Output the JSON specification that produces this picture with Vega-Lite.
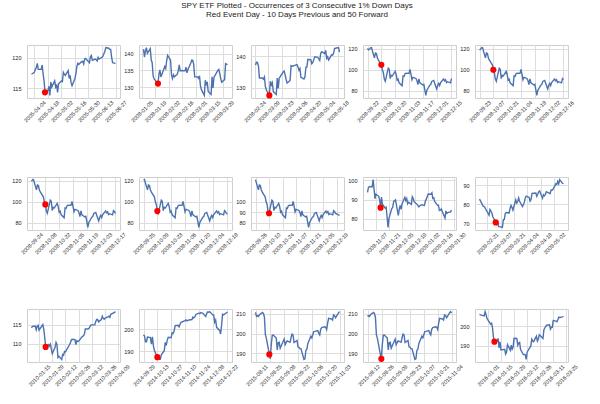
{
"$schema": "https://vega.github.io/schema/vega-lite/v6.json",
"padding": {"left": 11, "top": 2, "right": 5, "bottom": 5},
"background": "white",
"title": {"text": ["SPY ETF Plotted - Occurrences of 3 Consecutive 1% Down Days", "Red Event Day - 10 Days Previous and 50 Forward"], "fontSize": 8, "fontWeight": "normal", "color": "#222222", "font": "Liberation Sans", "anchor": "start", "align": "center", "dx": 270, "frame": "group", "offset": 25, "lineHeight": 9},
"datasets": {
"A": [{"d":"2005-04-01","v":117.3},{"d":"2005-04-04","v":117.6},{"d":"2005-04-05","v":118.1},{"d":"2005-04-06","v":118.4},{"d":"2005-04-07","v":119.1},{"d":"2005-04-08","v":118.1},{"d":"2005-04-11","v":118.1},{"d":"2005-04-12","v":118.8},{"d":"2005-04-13","v":117.4},{"d":"2005-04-14","v":116.2},{"d":"2005-04-15","v":114.3},{"d":"2005-04-18","v":114.6},{"d":"2005-04-19","v":115.3},{"d":"2005-04-20","v":113.8},{"d":"2005-04-21","v":116.0},{"d":"2005-04-22","v":115.2},{"d":"2005-04-25","v":116.2},{"d":"2005-04-26","v":115.2},{"d":"2005-04-27","v":115.6},{"d":"2005-04-28","v":114.3},{"d":"2005-04-29","v":115.7},{"d":"2005-05-02","v":116.2},{"d":"2005-05-03","v":116.1},{"d":"2005-05-04","v":117.6},{"d":"2005-05-05","v":117.3},{"d":"2005-05-06","v":117.1},{"d":"2005-05-09","v":117.9},{"d":"2005-05-10","v":116.6},{"d":"2005-05-11","v":117.1},{"d":"2005-05-12","v":115.9},{"d":"2005-05-13","v":115.4},{"d":"2005-05-16","v":116.6},{"d":"2005-05-17","v":117.4},{"d":"2005-05-18","v":118.6},{"d":"2005-05-19","v":119.1},{"d":"2005-05-20","v":118.9},{"d":"2005-05-23","v":119.4},{"d":"2005-05-24","v":119.4},{"d":"2005-05-25","v":119.0},{"d":"2005-05-26","v":119.8},{"d":"2005-05-27","v":119.9},{"d":"2005-05-31","v":119.2},{"d":"2005-06-01","v":120.2},{"d":"2005-06-02","v":120.4},{"d":"2005-06-03","v":119.6},{"d":"2005-06-06","v":119.8},{"d":"2005-06-07","v":119.7},{"d":"2005-06-08","v":119.5},{"d":"2005-06-09","v":120.1},{"d":"2005-06-10","v":119.8},{"d":"2005-06-13","v":120.1},{"d":"2005-06-14","v":120.3},{"d":"2005-06-15","v":120.7},{"d":"2005-06-16","v":121.1},{"d":"2005-06-17","v":121.7},{"d":"2005-06-20","v":121.6},{"d":"2005-06-21","v":121.4},{"d":"2005-06-22","v":121.4},{"d":"2005-06-23","v":120.1},{"d":"2005-06-24","v":119.2},{"d":"2005-06-27","v":119.1}],
"B": [{"d":"2008-01-07","v":141.3},{"d":"2008-01-08","v":139.0},{"d":"2008-01-09","v":140.9},{"d":"2008-01-10","v":141.8},{"d":"2008-01-11","v":140.1},{"d":"2008-01-14","v":141.5},{"d":"2008-01-15","v":138.1},{"d":"2008-01-16","v":137.3},{"d":"2008-01-17","v":133.3},{"d":"2008-01-18","v":132.5},{"d":"2008-01-22","v":131.1},{"d":"2008-01-23","v":133.9},{"d":"2008-01-24","v":135.2},{"d":"2008-01-25","v":133.1},{"d":"2008-01-28","v":135.4},{"d":"2008-01-29","v":136.2},{"d":"2008-01-30","v":135.6},{"d":"2008-01-31","v":137.9},{"d":"2008-02-01","v":139.5},{"d":"2008-02-04","v":138.1},{"d":"2008-02-05","v":133.7},{"d":"2008-02-06","v":132.6},{"d":"2008-02-07","v":133.7},{"d":"2008-02-08","v":133.1},{"d":"2008-02-11","v":133.9},{"d":"2008-02-12","v":134.9},{"d":"2008-02-13","v":136.7},{"d":"2008-02-14","v":134.9},{"d":"2008-02-15","v":135.0},{"d":"2008-02-19","v":134.9},{"d":"2008-02-20","v":136.0},{"d":"2008-02-21","v":134.3},{"d":"2008-02-22","v":135.3},{"d":"2008-02-25","v":137.2},{"d":"2008-02-26","v":138.1},{"d":"2008-02-27","v":138.0},{"d":"2008-02-28","v":136.8},{"d":"2008-02-29","v":133.1},{"d":"2008-03-03","v":133.1},{"d":"2008-03-04","v":132.7},{"d":"2008-03-05","v":133.4},{"d":"2008-03-06","v":130.4},{"d":"2008-03-07","v":129.3},{"d":"2008-03-10","v":127.6},{"d":"2008-03-11","v":132.1},{"d":"2008-03-12","v":130.9},{"d":"2008-03-13","v":131.6},{"d":"2008-03-14","v":128.8},{"d":"2008-03-17","v":127.9},{"d":"2008-03-18","v":133.1},{"d":"2008-03-19","v":129.8},{"d":"2008-03-20","v":133.0},{"d":"2008-03-24","v":135.0},{"d":"2008-03-25","v":135.3},{"d":"2008-03-26","v":134.1},{"d":"2008-03-27","v":132.6},{"d":"2008-03-28","v":131.5},{"d":"2008-03-31","v":132.3},{"d":"2008-04-01","v":137.0},{"d":"2008-04-02","v":136.8},{"d":"2008-04-03","v":136.9},{"d":"2008-04-04","v":137.0},{"d":"2008-04-07","v":137.3},{"d":"2008-04-08","v":136.6},{"d":"2008-04-09","v":135.5},{"d":"2008-04-10","v":136.1},{"d":"2008-04-11","v":133.3},{"d":"2008-04-14","v":132.8},{"d":"2008-04-15","v":133.4},{"d":"2008-04-16","v":136.5},{"d":"2008-04-17","v":136.6},{"d":"2008-04-18","v":139.0},{"d":"2008-04-21","v":138.8},{"d":"2008-04-22","v":137.6},{"d":"2008-04-23","v":138.0},{"d":"2008-04-24","v":138.9},{"d":"2008-04-25","v":139.8},{"d":"2008-04-28","v":139.6},{"d":"2008-04-29","v":139.1},{"d":"2008-04-30","v":138.6},{"d":"2008-05-01","v":140.9},{"d":"2008-05-02","v":141.4},{"d":"2008-05-05","v":140.8},{"d":"2008-05-06","v":141.8},{"d":"2008-05-07","v":139.3},{"d":"2008-05-08","v":139.8},{"d":"2008-05-09","v":138.8},{"d":"2008-05-12","v":140.4},{"d":"2008-05-13","v":140.3},{"d":"2008-05-14","v":140.9},{"d":"2008-05-15","v":142.4},{"d":"2008-05-16","v":142.5},{"d":"2008-05-19","v":142.7},{"d":"2008-05-20","v":141.3}],
"C": [{"d":"2008-09-22","v":120.5},{"d":"2008-09-23","v":119.0},{"d":"2008-09-24","v":119.6},{"d":"2008-09-25","v":121.0},{"d":"2008-09-26","v":121.2},{"d":"2008-09-29","v":111.4},{"d":"2008-09-30","v":116.0},{"d":"2008-10-01","v":115.6},{"d":"2008-10-02","v":111.3},{"d":"2008-10-03","v":109.2},{"d":"2008-10-06","v":104.8},{"d":"2008-10-07","v":100.0},{"d":"2008-10-08","v":97.5},{"d":"2008-10-09","v":91.1},{"d":"2008-10-10","v":89.0},{"d":"2008-10-13","v":101.5},{"d":"2008-10-14","v":100.5},{"d":"2008-10-15","v":91.5},{"d":"2008-10-16","v":94.7},{"d":"2008-10-17","v":94.0},{"d":"2008-10-20","v":98.5},{"d":"2008-10-21","v":95.5},{"d":"2008-10-22","v":90.0},{"d":"2008-10-23","v":91.0},{"d":"2008-10-24","v":87.5},{"d":"2008-10-27","v":84.8},{"d":"2008-10-28","v":94.0},{"d":"2008-10-29","v":93.7},{"d":"2008-10-30","v":96.3},{"d":"2008-10-31","v":96.8},{"d":"2008-11-03","v":96.6},{"d":"2008-11-04","v":100.4},{"d":"2008-11-05","v":95.7},{"d":"2008-11-06","v":90.4},{"d":"2008-11-07","v":92.8},{"d":"2008-11-10","v":91.7},{"d":"2008-11-11","v":89.8},{"d":"2008-11-12","v":85.8},{"d":"2008-11-13","v":91.3},{"d":"2008-11-14","v":87.6},{"d":"2008-11-17","v":85.5},{"d":"2008-11-18","v":86.0},{"d":"2008-11-19","v":80.9},{"d":"2008-11-20","v":75.5},{"d":"2008-11-21","v":80.2},{"d":"2008-11-24","v":85.3},{"d":"2008-11-25","v":85.9},{"d":"2008-11-26","v":88.9},{"d":"2008-11-28","v":89.8},{"d":"2008-12-01","v":81.7},{"d":"2008-12-02","v":84.9},{"d":"2008-12-03","v":87.0},{"d":"2008-12-04","v":84.9},{"d":"2008-12-05","v":87.7},{"d":"2008-12-08","v":91.2},{"d":"2008-12-09","v":89.5},{"d":"2008-12-10","v":90.5},{"d":"2008-12-11","v":87.8},{"d":"2008-12-12","v":88.6},{"d":"2008-12-15","v":87.5},{"d":"2008-12-16","v":91.5},{"d":"2008-12-17","v":90.6},{"d":"2008-12-18","v":88.8},{"d":"2008-12-19","v":88.5},{"d":"2008-12-22","v":87.0},{"d":"2008-12-23","v":86.2},{"d":"2008-12-24","v":86.8},{"d":"2008-12-26","v":87.3},{"d":"2008-12-29","v":87.0},{"d":"2008-12-30","v":89.2},{"d":"2008-12-31","v":90.2},{"d":"2009-01-02","v":92.9},{"d":"2009-01-05","v":92.8},{"d":"2009-01-06","v":93.5},{"d":"2009-01-07","v":90.6},{"d":"2009-01-08","v":90.9},{"d":"2009-01-09","v":89.0},{"d":"2009-01-12","v":87.0},{"d":"2009-01-13","v":87.1},{"d":"2009-01-14","v":84.3},{"d":"2009-01-15","v":84.4},{"d":"2009-01-16","v":85.1},{"d":"2009-01-20","v":80.4},{"d":"2009-01-21","v":84.1},{"d":"2009-01-22","v":82.8},{"d":"2009-01-23","v":83.2},{"d":"2009-01-26","v":83.6},{"d":"2009-01-27","v":84.5}],
"D": [{"d":"2009-02-13","v":82.7},{"d":"2009-02-17","v":78.9},{"d":"2009-02-18","v":78.8},{"d":"2009-02-19","v":77.9},{"d":"2009-02-20","v":77.0},{"d":"2009-02-23","v":74.3},{"d":"2009-02-24","v":77.3},{"d":"2009-02-25","v":76.5},{"d":"2009-02-26","v":75.3},{"d":"2009-02-27","v":73.5},{"d":"2009-03-02","v":70.5},{"d":"2009-03-03","v":69.6},{"d":"2009-03-04","v":71.3},{"d":"2009-03-05","v":68.3},{"d":"2009-03-06","v":68.3},{"d":"2009-03-09","v":67.9},{"d":"2009-03-10","v":72.0},{"d":"2009-03-11","v":72.1},{"d":"2009-03-12","v":75.1},{"d":"2009-03-13","v":75.7},{"d":"2009-03-16","v":75.4},{"d":"2009-03-17","v":77.8},{"d":"2009-03-18","v":79.4},{"d":"2009-03-19","v":78.4},{"d":"2009-03-20","v":76.9},{"d":"2009-03-23","v":82.3},{"d":"2009-03-24","v":80.6},{"d":"2009-03-25","v":81.4},{"d":"2009-03-26","v":83.3},{"d":"2009-03-27","v":81.6},{"d":"2009-03-30","v":78.8},{"d":"2009-03-31","v":79.8},{"d":"2009-04-01","v":81.1},{"d":"2009-04-02","v":83.4},{"d":"2009-04-03","v":84.3},{"d":"2009-04-06","v":83.6},{"d":"2009-04-07","v":81.6},{"d":"2009-04-08","v":82.5},{"d":"2009-04-09","v":85.7},{"d":"2009-04-13","v":85.9},{"d":"2009-04-14","v":84.2},{"d":"2009-04-15","v":85.2},{"d":"2009-04-16","v":86.5},{"d":"2009-04-17","v":87.0},{"d":"2009-04-20","v":83.2},{"d":"2009-04-21","v":85.0},{"d":"2009-04-22","v":84.4},{"d":"2009-04-23","v":85.2},{"d":"2009-04-24","v":86.6},{"d":"2009-04-27","v":85.8},{"d":"2009-04-28","v":85.5},{"d":"2009-04-29","v":87.4},{"d":"2009-04-30","v":87.3},{"d":"2009-05-01","v":87.8},{"d":"2009-05-04","v":90.7},{"d":"2009-05-05","v":90.4},{"d":"2009-05-06","v":92.0},{"d":"2009-05-07","v":90.7},{"d":"2009-05-08","v":92.9},{"d":"2009-05-11","v":90.9},{"d":"2009-05-12","v":90.8}],
"E": [{"d":"2010-01-07","v":114.2},{"d":"2010-01-08","v":114.6},{"d":"2010-01-11","v":114.7},{"d":"2010-01-12","v":113.7},{"d":"2010-01-13","v":114.6},{"d":"2010-01-14","v":114.9},{"d":"2010-01-15","v":113.6},{"d":"2010-01-19","v":115.1},{"d":"2010-01-20","v":113.9},{"d":"2010-01-21","v":111.7},{"d":"2010-01-22","v":109.2},{"d":"2010-01-25","v":109.8},{"d":"2010-01-26","v":109.4},{"d":"2010-01-27","v":109.9},{"d":"2010-01-28","v":108.6},{"d":"2010-01-29","v":107.4},{"d":"2010-02-01","v":109.1},{"d":"2010-02-02","v":110.4},{"d":"2010-02-03","v":109.8},{"d":"2010-02-04","v":106.4},{"d":"2010-02-05","v":106.7},{"d":"2010-02-08","v":105.9},{"d":"2010-02-09","v":107.2},{"d":"2010-02-10","v":107.0},{"d":"2010-02-11","v":108.0},{"d":"2010-02-12","v":107.9},{"d":"2010-02-16","v":109.7},{"d":"2010-02-17","v":110.1},{"d":"2010-02-18","v":110.9},{"d":"2010-02-19","v":111.2},{"d":"2010-02-22","v":111.1},{"d":"2010-02-23","v":109.8},{"d":"2010-02-24","v":110.8},{"d":"2010-02-25","v":110.6},{"d":"2010-02-26","v":110.7},{"d":"2010-03-01","v":111.7},{"d":"2010-03-02","v":112.0},{"d":"2010-03-03","v":112.1},{"d":"2010-03-04","v":112.5},{"d":"2010-03-05","v":113.9},{"d":"2010-03-08","v":113.9},{"d":"2010-03-09","v":114.1},{"d":"2010-03-10","v":114.6},{"d":"2010-03-11","v":115.0},{"d":"2010-03-12","v":115.0},{"d":"2010-03-15","v":115.0},{"d":"2010-03-16","v":115.8},{"d":"2010-03-17","v":116.4},{"d":"2010-03-18","v":116.4},{"d":"2010-03-19","v":115.8},{"d":"2010-03-22","v":116.4},{"d":"2010-03-23","v":117.3},{"d":"2010-03-24","v":116.7},{"d":"2010-03-25","v":116.5},{"d":"2010-03-26","v":116.8},{"d":"2010-03-29","v":117.1},{"d":"2010-03-30","v":117.3},{"d":"2010-03-31","v":117.0},{"d":"2010-04-01","v":117.8},{"d":"2010-04-05","v":118.3},{"d":"2010-04-06","v":118.5}],
"F": [{"d":"2014-09-29","v":197.5},{"d":"2014-09-30","v":197.0},{"d":"2014-10-01","v":194.4},{"d":"2014-10-02","v":194.4},{"d":"2014-10-03","v":196.5},{"d":"2014-10-06","v":196.3},{"d":"2014-10-07","v":193.3},{"d":"2014-10-08","v":196.6},{"d":"2014-10-09","v":192.6},{"d":"2014-10-10","v":190.5},{"d":"2014-10-13","v":187.4},{"d":"2014-10-14","v":187.7},{"d":"2014-10-15","v":186.4},{"d":"2014-10-16","v":186.4},{"d":"2014-10-17","v":188.5},{"d":"2014-10-20","v":190.3},{"d":"2014-10-21","v":194.1},{"d":"2014-10-22","v":192.7},{"d":"2014-10-23","v":195.0},{"d":"2014-10-24","v":196.4},{"d":"2014-10-27","v":196.2},{"d":"2014-10-28","v":198.4},{"d":"2014-10-29","v":198.1},{"d":"2014-10-30","v":199.2},{"d":"2014-10-31","v":201.7},{"d":"2014-11-03","v":201.8},{"d":"2014-11-04","v":201.1},{"d":"2014-11-05","v":202.3},{"d":"2014-11-06","v":203.2},{"d":"2014-11-07","v":203.3},{"d":"2014-11-10","v":203.9},{"d":"2014-11-11","v":204.2},{"d":"2014-11-12","v":203.8},{"d":"2014-11-13","v":204.0},{"d":"2014-11-14","v":204.2},{"d":"2014-11-17","v":204.4},{"d":"2014-11-18","v":205.5},{"d":"2014-11-19","v":205.2},{"d":"2014-11-20","v":205.6},{"d":"2014-11-21","v":206.7},{"d":"2014-11-24","v":207.3},{"d":"2014-11-25","v":207.1},{"d":"2014-11-26","v":207.6},{"d":"2014-11-28","v":207.2},{"d":"2014-12-01","v":205.8},{"d":"2014-12-02","v":207.1},{"d":"2014-12-03","v":207.9},{"d":"2014-12-04","v":207.7},{"d":"2014-12-05","v":208.0},{"d":"2014-12-08","v":206.5},{"d":"2014-12-09","v":206.5},{"d":"2014-12-10","v":203.2},{"d":"2014-12-11","v":204.2},{"d":"2014-12-12","v":200.9},{"d":"2014-12-15","v":199.5},{"d":"2014-12-16","v":197.9},{"d":"2014-12-17","v":201.8},{"d":"2014-12-18","v":206.8},{"d":"2014-12-19","v":206.5},{"d":"2014-12-22","v":207.5},{"d":"2014-12-23","v":207.8}],
"G": [{"d":"2015-08-10","v":210.6},{"d":"2015-08-11","v":208.6},{"d":"2015-08-12","v":209.0},{"d":"2015-08-13","v":208.6},{"d":"2015-08-14","v":209.4},{"d":"2015-08-17","v":210.6},{"d":"2015-08-18","v":210.1},{"d":"2015-08-19","v":208.3},{"d":"2015-08-20","v":199.4},{"d":"2015-08-21","v":197.6},{"d":"2015-08-24","v":189.5},{"d":"2015-08-25","v":187.3},{"d":"2015-08-26","v":194.7},{"d":"2015-08-27","v":199.2},{"d":"2015-08-28","v":199.3},{"d":"2015-08-31","v":197.7},{"d":"2015-09-01","v":191.8},{"d":"2015-09-02","v":195.4},{"d":"2015-09-03","v":195.6},{"d":"2015-09-04","v":192.6},{"d":"2015-09-08","v":197.2},{"d":"2015-09-09","v":194.4},{"d":"2015-09-10","v":195.4},{"d":"2015-09-11","v":196.3},{"d":"2015-09-14","v":195.6},{"d":"2015-09-15","v":198.0},{"d":"2015-09-16","v":199.7},{"d":"2015-09-17","v":199.2},{"d":"2015-09-18","v":195.5},{"d":"2015-09-21","v":196.5},{"d":"2015-09-22","v":193.3},{"d":"2015-09-23","v":193.1},{"d":"2015-09-24","v":192.4},{"d":"2015-09-25","v":192.4},{"d":"2015-09-28","v":187.0},{"d":"2015-09-29","v":187.3},{"d":"2015-09-30","v":191.6},{"d":"2015-10-01","v":192.1},{"d":"2015-10-02","v":195.0},{"d":"2015-10-05","v":198.6},{"d":"2015-10-06","v":197.8},{"d":"2015-10-07","v":199.4},{"d":"2015-10-08","v":201.0},{"d":"2015-10-09","v":201.1},{"d":"2015-10-12","v":201.5},{"d":"2015-10-13","v":200.2},{"d":"2015-10-14","v":199.3},{"d":"2015-10-15","v":202.1},{"d":"2015-10-16","v":203.0},{"d":"2015-10-19","v":203.4},{"d":"2015-10-20","v":203.1},{"d":"2015-10-21","v":202.0},{"d":"2015-10-22","v":205.2},{"d":"2015-10-23","v":207.6},{"d":"2015-10-26","v":207.3},{"d":"2015-10-27","v":206.8},{"d":"2015-10-28","v":209.3},{"d":"2015-10-29","v":208.9},{"d":"2015-10-30","v":207.9},{"d":"2015-11-02","v":210.4},{"d":"2015-11-03","v":211.0},{"d":"2015-11-04","v":210.3}],
"H": [{"d":"2015-12-23","v":206.0},{"d":"2015-12-24","v":205.7},{"d":"2015-12-28","v":205.2},{"d":"2015-12-29","v":207.4},{"d":"2015-12-30","v":205.9},{"d":"2015-12-31","v":203.9},{"d":"2016-01-04","v":201.0},{"d":"2016-01-05","v":201.4},{"d":"2016-01-06","v":198.8},{"d":"2016-01-07","v":194.0},{"d":"2016-01-08","v":192.0},{"d":"2016-01-11","v":192.1},{"d":"2016-01-12","v":193.7},{"d":"2016-01-13","v":188.8},{"d":"2016-01-14","v":191.9},{"d":"2016-01-15","v":187.8},{"d":"2016-01-19","v":188.1},{"d":"2016-01-20","v":185.7},{"d":"2016-01-21","v":186.7},{"d":"2016-01-22","v":190.5},{"d":"2016-01-25","v":187.6},{"d":"2016-01-26","v":190.2},{"d":"2016-01-27","v":188.1},{"d":"2016-01-28","v":189.1},{"d":"2016-01-29","v":193.7},{"d":"2016-02-01","v":193.6},{"d":"2016-02-02","v":190.2},{"d":"2016-02-03","v":191.3},{"d":"2016-02-04","v":191.6},{"d":"2016-02-05","v":187.9},{"d":"2016-02-08","v":185.4},{"d":"2016-02-09","v":185.4},{"d":"2016-02-10","v":185.3},{"d":"2016-02-11","v":182.9},{"d":"2016-02-12","v":186.6},{"d":"2016-02-16","v":189.8},{"d":"2016-02-17","v":193.2},{"d":"2016-02-18","v":192.3},{"d":"2016-02-19","v":192.0},{"d":"2016-02-22","v":194.8},{"d":"2016-02-23","v":192.3},{"d":"2016-02-24","v":193.2},{"d":"2016-02-25","v":195.5},{"d":"2016-02-26","v":195.1},{"d":"2016-02-29","v":193.6},{"d":"2016-03-01","v":198.1},{"d":"2016-03-02","v":199.0},{"d":"2016-03-03","v":199.8},{"d":"2016-03-04","v":200.4},{"d":"2016-03-07","v":200.6},{"d":"2016-03-08","v":198.4},{"d":"2016-03-09","v":199.4},{"d":"2016-03-10","v":199.4},{"d":"2016-03-11","v":202.8},{"d":"2016-03-14","v":202.5},{"d":"2016-03-15","v":202.2},{"d":"2016-03-16","v":203.3},{"d":"2016-03-17","v":204.6},{"d":"2016-03-18","v":204.4},{"d":"2016-03-21","v":204.7},{"d":"2016-03-22","v":204.9}]
},
"bounds": "flush",
"spacing": {"row": 79, "column": 19},
"columns": 5,
"concat": [
{"width":93,"height":53,"data":{"name":"A"},"layer":[
{"mark":"line","encoding":{"x":{"field":"d","type":"temporal","title":null,"scale":{"type":"utc","nice":false,"padding":4.5},"axis":{"values":[{"year":2005,"month":4,"date":4,"utc":true},{"year":2005,"month":4,"date":18,"utc":true},{"year":2005,"month":5,"date":2,"utc":true},{"year":2005,"month":5,"date":16,"utc":true},{"year":2005,"month":5,"date":30,"utc":true},{"year":2005,"month":6,"date":13,"utc":true},{"year":2005,"month":6,"date":27,"utc":true}],"tickCount":30,"format":"%Y-%m-%d","labelAngle":-45,"labelAlign":"center","labelBaseline":"middle","labelPadding":13,"labelOverlap":false,"labelFlush":false,"labelBound":false}},"y":{"field":"v","type":"quantitative","title":null,"scale":{"zero":false,"nice":false,"padding":2.6},"axis":{"values":[115,120],"tickCount":30,"format":"d"}}}},
{"transform":[{"filter":"time(datum.d)==time('2005-04-15')"}],"mark":"point","encoding":{"x":{"field":"d","type":"temporal"},"y":{"field":"v","type":"quantitative"}}}]},
{"width":93,"height":53,"data":{"name":"B"},"transform":[{"filter":"time(datum.d)>=time('2008-01-07')&&time(datum.d)<=time('2008-04-03')"}],"layer":[
{"mark":"line","encoding":{"x":{"field":"d","type":"temporal","title":null,"scale":{"type":"utc","nice":false,"padding":4.5},"axis":{"values":[{"year":2008,"month":1,"date":5,"utc":true},{"year":2008,"month":1,"date":19,"utc":true},{"year":2008,"month":2,"date":2,"utc":true},{"year":2008,"month":2,"date":16,"utc":true},{"year":2008,"month":3,"date":1,"utc":true},{"year":2008,"month":3,"date":15,"utc":true},{"year":2008,"month":3,"date":29,"utc":true}],"tickCount":30,"format":"%Y-%m-%d","labelAngle":-45,"labelAlign":"center","labelBaseline":"middle","labelPadding":13,"labelOverlap":false,"labelFlush":false,"labelBound":false}},"y":{"field":"v","type":"quantitative","title":null,"scale":{"zero":false,"nice":false,"padding":2.6},"axis":{"values":[130,135,140],"tickCount":30,"format":"d"}}}},
{"transform":[{"filter":"time(datum.d)==time('2008-01-22')"}],"mark":"point","encoding":{"x":{"field":"d","type":"temporal"},"y":{"field":"v","type":"quantitative"}}}]},
{"width":93,"height":53,"data":{"name":"B"},"transform":[{"filter":"time(datum.d)>=time('2008-02-25')&&time(datum.d)<=time('2008-05-20')"}],"layer":[
{"mark":"line","encoding":{"x":{"field":"d","type":"temporal","title":null,"scale":{"type":"utc","nice":false,"padding":4.5},"axis":{"values":[{"year":2008,"month":2,"date":24,"utc":true},{"year":2008,"month":3,"date":9,"utc":true},{"year":2008,"month":3,"date":23,"utc":true},{"year":2008,"month":4,"date":6,"utc":true},{"year":2008,"month":4,"date":20,"utc":true},{"year":2008,"month":5,"date":4,"utc":true},{"year":2008,"month":5,"date":18,"utc":true}],"tickCount":30,"format":"%Y-%m-%d","labelAngle":-45,"labelAlign":"center","labelBaseline":"middle","labelPadding":13,"labelOverlap":false,"labelFlush":false,"labelBound":false}},"y":{"field":"v","type":"quantitative","title":null,"scale":{"zero":false,"nice":false,"padding":2.6},"axis":{"values":[130,140],"tickCount":30,"format":"d"}}}},
{"transform":[{"filter":"time(datum.d)==time('2008-03-10')"}],"mark":"point","encoding":{"x":{"field":"d","type":"temporal"},"y":{"field":"v","type":"quantitative"}}}]},
{"width":93,"height":53,"data":{"name":"C"},"transform":[{"filter":"time(datum.d)>=time('2008-09-22')&&time(datum.d)<=time('2008-12-16')"}],"layer":[
{"mark":"line","encoding":{"x":{"field":"d","type":"temporal","title":null,"scale":{"type":"utc","nice":false,"padding":4.5},"axis":{"values":[{"year":2008,"month":9,"date":22,"utc":true},{"year":2008,"month":10,"date":6,"utc":true},{"year":2008,"month":10,"date":20,"utc":true},{"year":2008,"month":11,"date":3,"utc":true},{"year":2008,"month":11,"date":17,"utc":true},{"year":2008,"month":12,"date":1,"utc":true},{"year":2008,"month":12,"date":15,"utc":true}],"tickCount":30,"format":"%Y-%m-%d","labelAngle":-45,"labelAlign":"center","labelBaseline":"middle","labelPadding":13,"labelOverlap":false,"labelFlush":false,"labelBound":false}},"y":{"field":"v","type":"quantitative","title":null,"scale":{"zero":false,"nice":false,"padding":2.6},"axis":{"values":[80,100,120],"tickCount":30,"format":"d"}}}},
{"transform":[{"filter":"time(datum.d)==time('2008-10-06')"}],"mark":"point","encoding":{"x":{"field":"d","type":"temporal"},"y":{"field":"v","type":"quantitative"}}}]},
{"width":93,"height":53,"data":{"name":"C"},"transform":[{"filter":"time(datum.d)>=time('2008-09-23')&&time(datum.d)<=time('2008-12-17')"}],"layer":[
{"mark":"line","encoding":{"x":{"field":"d","type":"temporal","title":null,"scale":{"type":"utc","nice":false,"padding":4.5},"axis":{"values":[{"year":2008,"month":9,"date":23,"utc":true},{"year":2008,"month":10,"date":7,"utc":true},{"year":2008,"month":10,"date":21,"utc":true},{"year":2008,"month":11,"date":4,"utc":true},{"year":2008,"month":11,"date":18,"utc":true},{"year":2008,"month":12,"date":2,"utc":true},{"year":2008,"month":12,"date":16,"utc":true}],"tickCount":30,"format":"%Y-%m-%d","labelAngle":-45,"labelAlign":"center","labelBaseline":"middle","labelPadding":13,"labelOverlap":false,"labelFlush":false,"labelBound":false}},"y":{"field":"v","type":"quantitative","title":null,"scale":{"zero":false,"nice":false,"padding":2.6},"axis":{"values":[80,100,120],"tickCount":30,"format":"d"}}}},
{"transform":[{"filter":"time(datum.d)==time('2008-10-07')"}],"mark":"point","encoding":{"x":{"field":"d","type":"temporal"},"y":{"field":"v","type":"quantitative"}}}]},
{"width":93,"height":53,"data":{"name":"C"},"transform":[{"filter":"time(datum.d)>=time('2008-09-24')&&time(datum.d)<=time('2008-12-18')"}],"layer":[
{"mark":"line","encoding":{"x":{"field":"d","type":"temporal","title":null,"scale":{"type":"utc","nice":false,"padding":4.5},"axis":{"values":[{"year":2008,"month":9,"date":24,"utc":true},{"year":2008,"month":10,"date":8,"utc":true},{"year":2008,"month":10,"date":22,"utc":true},{"year":2008,"month":11,"date":5,"utc":true},{"year":2008,"month":11,"date":19,"utc":true},{"year":2008,"month":12,"date":3,"utc":true},{"year":2008,"month":12,"date":17,"utc":true}],"tickCount":30,"format":"%Y-%m-%d","labelAngle":-45,"labelAlign":"center","labelBaseline":"middle","labelPadding":13,"labelOverlap":false,"labelFlush":false,"labelBound":false}},"y":{"field":"v","type":"quantitative","title":null,"scale":{"zero":false,"nice":false,"padding":2.6},"axis":{"values":[80,100,120],"tickCount":30,"format":"d"}}}},
{"transform":[{"filter":"time(datum.d)==time('2008-10-08')"}],"mark":"point","encoding":{"x":{"field":"d","type":"temporal"},"y":{"field":"v","type":"quantitative"}}}]},
{"width":93,"height":53,"data":{"name":"C"},"transform":[{"filter":"time(datum.d)>=time('2008-09-25')&&time(datum.d)<=time('2008-12-19')"}],"layer":[
{"mark":"line","encoding":{"x":{"field":"d","type":"temporal","title":null,"scale":{"type":"utc","nice":false,"padding":4.5},"axis":{"values":[{"year":2008,"month":9,"date":25,"utc":true},{"year":2008,"month":10,"date":9,"utc":true},{"year":2008,"month":10,"date":23,"utc":true},{"year":2008,"month":11,"date":6,"utc":true},{"year":2008,"month":11,"date":20,"utc":true},{"year":2008,"month":12,"date":4,"utc":true},{"year":2008,"month":12,"date":18,"utc":true}],"tickCount":30,"format":"%Y-%m-%d","labelAngle":-45,"labelAlign":"center","labelBaseline":"middle","labelPadding":13,"labelOverlap":false,"labelFlush":false,"labelBound":false}},"y":{"field":"v","type":"quantitative","title":null,"scale":{"zero":false,"nice":false,"padding":2.6},"axis":{"values":[80,100,120],"tickCount":30,"format":"d"}}}},
{"transform":[{"filter":"time(datum.d)==time('2008-10-09')"}],"mark":"point","encoding":{"x":{"field":"d","type":"temporal"},"y":{"field":"v","type":"quantitative"}}}]},
{"width":93,"height":53,"data":{"name":"C"},"transform":[{"filter":"time(datum.d)>=time('2008-09-26')&&time(datum.d)<=time('2008-12-22')"}],"layer":[
{"mark":"line","encoding":{"x":{"field":"d","type":"temporal","title":null,"scale":{"type":"utc","nice":false,"padding":4.5},"axis":{"values":[{"year":2008,"month":9,"date":26,"utc":true},{"year":2008,"month":10,"date":10,"utc":true},{"year":2008,"month":10,"date":24,"utc":true},{"year":2008,"month":11,"date":7,"utc":true},{"year":2008,"month":11,"date":21,"utc":true},{"year":2008,"month":12,"date":5,"utc":true},{"year":2008,"month":12,"date":19,"utc":true}],"tickCount":30,"format":"%Y-%m-%d","labelAngle":-45,"labelAlign":"center","labelBaseline":"middle","labelPadding":13,"labelOverlap":false,"labelFlush":false,"labelBound":false}},"y":{"field":"v","type":"quantitative","title":null,"scale":{"zero":false,"nice":false,"padding":2.6},"axis":{"values":[80,90,100],"tickCount":30,"format":"d"}}}},
{"transform":[{"filter":"time(datum.d)==time('2008-10-10')"}],"mark":"point","encoding":{"x":{"field":"d","type":"temporal"},"y":{"field":"v","type":"quantitative"}}}]},
{"width":93,"height":53,"data":{"name":"C"},"transform":[{"filter":"time(datum.d)>=time('2008-10-29')&&time(datum.d)<=time('2009-01-27')"}],"layer":[
{"mark":"line","encoding":{"x":{"field":"d","type":"temporal","title":null,"scale":{"type":"utc","nice":false,"padding":4.5},"axis":{"values":[{"year":2008,"month":11,"date":7,"utc":true},{"year":2008,"month":11,"date":21,"utc":true},{"year":2008,"month":12,"date":5,"utc":true},{"year":2008,"month":12,"date":19,"utc":true},{"year":2009,"month":1,"date":2,"utc":true},{"year":2009,"month":1,"date":16,"utc":true},{"year":2009,"month":1,"date":30,"utc":true}],"tickCount":30,"format":"%Y-%m-%d","labelAngle":-45,"labelAlign":"center","labelBaseline":"middle","labelPadding":13,"labelOverlap":false,"labelFlush":false,"labelBound":false}},"y":{"field":"v","type":"quantitative","title":null,"scale":{"zero":false,"nice":false,"padding":2.6},"axis":{"values":[80,90,100],"tickCount":30,"format":"d"}}}},
{"transform":[{"filter":"time(datum.d)==time('2008-11-12')"}],"mark":"point","encoding":{"x":{"field":"d","type":"temporal"},"y":{"field":"v","type":"quantitative"}}}]},
{"width":93,"height":53,"data":{"name":"D"},"layer":[
{"mark":"line","encoding":{"x":{"field":"d","type":"temporal","title":null,"scale":{"type":"utc","nice":false,"padding":4.5},"axis":{"values":[{"year":2009,"month":2,"date":21,"utc":true},{"year":2009,"month":3,"date":7,"utc":true},{"year":2009,"month":3,"date":21,"utc":true},{"year":2009,"month":4,"date":4,"utc":true},{"year":2009,"month":4,"date":18,"utc":true},{"year":2009,"month":5,"date":2,"utc":true}],"tickCount":30,"format":"%Y-%m-%d","labelAngle":-45,"labelAlign":"center","labelBaseline":"middle","labelPadding":13,"labelOverlap":false,"labelFlush":false,"labelBound":false}},"y":{"field":"v","type":"quantitative","title":null,"scale":{"zero":false,"nice":false,"padding":2.6},"axis":{"values":[70,80,90],"tickCount":30,"format":"d"}}}},
{"transform":[{"filter":"time(datum.d)==time('2009-03-02')"}],"mark":"point","encoding":{"x":{"field":"d","type":"temporal"},"y":{"field":"v","type":"quantitative"}}}]},
{"width":93,"height":53,"data":{"name":"E"},"layer":[
{"mark":"line","encoding":{"x":{"field":"d","type":"temporal","title":null,"scale":{"type":"utc","nice":false,"padding":4.5},"axis":{"values":[{"year":2010,"month":1,"date":15,"utc":true},{"year":2010,"month":1,"date":29,"utc":true},{"year":2010,"month":2,"date":12,"utc":true},{"year":2010,"month":2,"date":26,"utc":true},{"year":2010,"month":3,"date":12,"utc":true},{"year":2010,"month":3,"date":26,"utc":true},{"year":2010,"month":4,"date":9,"utc":true}],"tickCount":30,"format":"%Y-%m-%d","labelAngle":-45,"labelAlign":"center","labelBaseline":"middle","labelPadding":13,"labelOverlap":false,"labelFlush":false,"labelBound":false}},"y":{"field":"v","type":"quantitative","title":null,"scale":{"zero":false,"nice":false,"padding":2.6},"axis":{"values":[110,115],"tickCount":30,"format":"d"}}}},
{"transform":[{"filter":"time(datum.d)==time('2010-01-22')"}],"mark":"point","encoding":{"x":{"field":"d","type":"temporal"},"y":{"field":"v","type":"quantitative"}}}]},
{"width":93,"height":53,"data":{"name":"F"},"layer":[
{"mark":"line","encoding":{"x":{"field":"d","type":"temporal","title":null,"scale":{"type":"utc","nice":false,"padding":4.5},"axis":{"values":[{"year":2014,"month":9,"date":29,"utc":true},{"year":2014,"month":10,"date":13,"utc":true},{"year":2014,"month":10,"date":27,"utc":true},{"year":2014,"month":11,"date":10,"utc":true},{"year":2014,"month":11,"date":24,"utc":true},{"year":2014,"month":12,"date":8,"utc":true},{"year":2014,"month":12,"date":22,"utc":true}],"tickCount":30,"format":"%Y-%m-%d","labelAngle":-45,"labelAlign":"center","labelBaseline":"middle","labelPadding":13,"labelOverlap":false,"labelFlush":false,"labelBound":false}},"y":{"field":"v","type":"quantitative","title":null,"scale":{"zero":false,"nice":false,"padding":2.6},"axis":{"values":[190,200],"tickCount":30,"format":"d"}}}},
{"transform":[{"filter":"time(datum.d)==time('2014-10-13')"}],"mark":"point","encoding":{"x":{"field":"d","type":"temporal"},"y":{"field":"v","type":"quantitative"}}}]},
{"width":93,"height":53,"data":{"name":"G"},"transform":[{"filter":"time(datum.d)>=time('2015-08-10')&&time(datum.d)<=time('2015-11-03')"}],"layer":[
{"mark":"line","encoding":{"x":{"field":"d","type":"temporal","title":null,"scale":{"type":"utc","nice":false,"padding":4.5},"axis":{"values":[{"year":2015,"month":8,"date":11,"utc":true},{"year":2015,"month":8,"date":25,"utc":true},{"year":2015,"month":9,"date":8,"utc":true},{"year":2015,"month":9,"date":22,"utc":true},{"year":2015,"month":10,"date":6,"utc":true},{"year":2015,"month":10,"date":20,"utc":true},{"year":2015,"month":11,"date":3,"utc":true}],"tickCount":30,"format":"%Y-%m-%d","labelAngle":-45,"labelAlign":"center","labelBaseline":"middle","labelPadding":13,"labelOverlap":false,"labelFlush":false,"labelBound":false}},"y":{"field":"v","type":"quantitative","title":null,"scale":{"zero":false,"nice":false,"padding":2.6},"axis":{"values":[190,200,210],"tickCount":30,"format":"d"}}}},
{"transform":[{"filter":"time(datum.d)==time('2015-08-24')"}],"mark":"point","encoding":{"x":{"field":"d","type":"temporal"},"y":{"field":"v","type":"quantitative"}}}]},
{"width":93,"height":53,"data":{"name":"G"},"transform":[{"filter":"time(datum.d)>=time('2015-08-11')&&time(datum.d)<=time('2015-11-04')"}],"layer":[
{"mark":"line","encoding":{"x":{"field":"d","type":"temporal","title":null,"scale":{"type":"utc","nice":false,"padding":4.5},"axis":{"values":[{"year":2015,"month":8,"date":12,"utc":true},{"year":2015,"month":8,"date":26,"utc":true},{"year":2015,"month":9,"date":9,"utc":true},{"year":2015,"month":9,"date":23,"utc":true},{"year":2015,"month":10,"date":7,"utc":true},{"year":2015,"month":10,"date":21,"utc":true},{"year":2015,"month":11,"date":4,"utc":true}],"tickCount":30,"format":"%Y-%m-%d","labelAngle":-45,"labelAlign":"center","labelBaseline":"middle","labelPadding":13,"labelOverlap":false,"labelFlush":false,"labelBound":false}},"y":{"field":"v","type":"quantitative","title":null,"scale":{"zero":false,"nice":false,"padding":2.6},"axis":{"values":[190,200,210],"tickCount":30,"format":"d"}}}},
{"transform":[{"filter":"time(datum.d)==time('2015-08-25')"}],"mark":"point","encoding":{"x":{"field":"d","type":"temporal"},"y":{"field":"v","type":"quantitative"}}}]},
{"width":93,"height":53,"data":{"name":"H"},"layer":[
{"mark":"line","encoding":{"x":{"field":"d","type":"temporal","title":null,"scale":{"type":"utc","nice":false,"padding":4.5},"axis":{"values":[{"year":2016,"month":1,"date":1,"utc":true},{"year":2016,"month":1,"date":15,"utc":true},{"year":2016,"month":1,"date":29,"utc":true},{"year":2016,"month":2,"date":12,"utc":true},{"year":2016,"month":2,"date":26,"utc":true},{"year":2016,"month":3,"date":11,"utc":true},{"year":2016,"month":3,"date":25,"utc":true}],"tickCount":30,"format":"%Y-%m-%d","labelAngle":-45,"labelAlign":"center","labelBaseline":"middle","labelPadding":13,"labelOverlap":false,"labelFlush":false,"labelBound":false}},"y":{"field":"v","type":"quantitative","title":null,"scale":{"zero":false,"nice":false,"padding":2.6},"axis":{"values":[190,200],"tickCount":30,"format":"d"}}}},
{"transform":[{"filter":"time(datum.d)==time('2016-01-08')"}],"mark":"point","encoding":{"x":{"field":"d","type":"temporal"},"y":{"field":"v","type":"quantitative"}}}]}
],
"config": {
"font": "Liberation Sans",
"view": {"stroke": "#cfcfcf", "strokeWidth": 1},
"axis": {"domain": false, "ticks": false, "grid": true, "gridColor": "#dddddd", "gridWidth": 1, "labelFontSize": 5.5, "labelColor": "#222222", "labelFont": "Liberation Sans"},
"axisY": {"labelPadding": 6},
"line": {"color": "#4c72b0", "strokeWidth": 1.4},
"point": {"filled": true, "color": "#ff0000", "size": 38, "opacity": 1, "shape": "circle"}
}
}
